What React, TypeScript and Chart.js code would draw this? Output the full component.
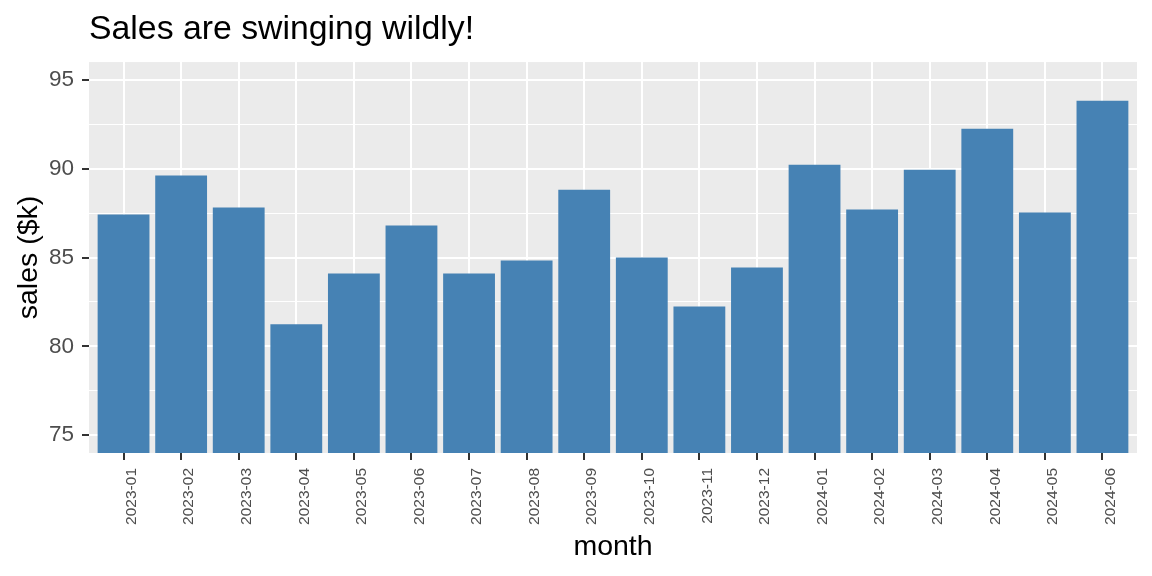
import { useEffect, useRef } from 'react';
import { Chart, registerables } from 'chart.js';

Chart.register(...registerables);

const MONTHS = [
  '2023-01', '2023-02', '2023-03', '2023-04', '2023-05', '2023-06',
  '2023-07', '2023-08', '2023-09', '2023-10', '2023-11', '2023-12',
  '2024-01', '2024-02', '2024-03', '2024-04', '2024-05', '2024-06',
];
const SALES = [
  87.42, 89.61, 87.81, 81.24, 84.1, 86.8,
  84.1, 84.83, 88.82, 85.0, 82.25, 84.44,
  90.22, 87.7, 89.94, 92.25, 87.53, 93.82,
];
const Y_TICKS = [75, 77.5, 80, 82.5, 85, 87.5, 90, 92.5, 95];

const FAMILY = '"Liberation Sans", Arial, sans-serif';
const isMajor = (v: number) => v % 5 === 0;

// grey panel behind the plot area, like ggplot's theme_gray
const panelBg = {
  id: 'panelBg',
  beforeDraw(chart: Chart) {
    const { ctx, chartArea: a } = chart;
    ctx.save();
    ctx.fillStyle = '#EBEBEB';
    ctx.fillRect(a.left, a.top, a.right - a.left, a.bottom - a.top);
    ctx.restore();
  },
};

export default function App() {
  const canvasRef = useRef<HTMLCanvasElement>(null);
  const chartRef = useRef<Chart | null>(null);

  useEffect(() => {
    if (!canvasRef.current) return;
    document.body.style.margin = '0';

    const existing = Chart.getChart(canvasRef.current);
    if (existing) existing.destroy();
    chartRef.current?.destroy();

    chartRef.current = new Chart(canvasRef.current, {
      type: 'bar',
      data: {
        datasets: [{
          data: SALES.map((v, i) => ({ x: i, y: v })),
          backgroundColor: '#4682B4',
          borderWidth: 0,
          categoryPercentage: 0.9,
          barPercentage: 1,
          base: 74,
        }],
      },
      options: {
        animation: false,
        responsive: true,
        maintainAspectRatio: false,
        layout: { padding: { left: 0, right: 15, top: 0, bottom: 0 } },
        plugins: {
          legend: { display: false },
          tooltip: { enabled: false },
          title: {
            display: true,
            text: 'Sales are swinging wildly!',
            align: 'start',
            fullSize: false,
            color: '#000',
            font: { family: FAMILY, size: 33.8, weight: 'normal' },
            padding: { top: 9, bottom: 12.5 },
          },
        },
        scales: {
          x: {
            type: 'linear',
            min: -0.6,
            max: 17.6,
            offset: false,
            afterBuildTicks: (s: any) => { s.ticks = MONTHS.map((_, i) => ({ value: i })); },
            afterFit: (s: any) => { s.height = 123; },
            grid: {
              offset: false,
              color: '#FFFFFF',
              lineWidth: 2,
              drawTicks: true,
              tickLength: 7,
              tickColor: '#333333',
              tickWidth: 2,
            },
            border: { display: false },
            ticks: {
              autoSkip: false,
              maxRotation: 90,
              minRotation: 90,
              padding: 8,
              labelOffset: 8,
              color: '#4D4D4D',
              font: { family: FAMILY, size: 15.5 },
              callback: (v: any) => MONTHS[v as number] ?? '',
            },
            title: {
              display: true,
              text: 'month',
              color: '#000',
              font: { family: FAMILY, size: 28.5 },
              padding: { top: 0, bottom: 12 },
            },
          },
          y: {
            min: 74,
            max: 96,
            beginAtZero: false,
            afterBuildTicks: (s: any) => { s.ticks = Y_TICKS.map(v => ({ value: v })); },
            afterFit: (s: any) => { s.width = 89; },
            grid: {
              color: '#FFFFFF',
              lineWidth: (c: any) => (isMajor(c.tick.value) ? 2 : 1),
              drawTicks: true,
              tickLength: 7,
              tickColor: (c: any) => (isMajor(c.tick.value) ? '#333333' : 'rgba(0,0,0,0)'),
              tickWidth: 2,
            },
            border: { display: false },
            ticks: {
              padding: 8,
              color: '#4D4D4D',
              font: { family: FAMILY, size: 22.5 },
              callback: (v: any) => (isMajor(v as number) ? String(v) : ''),
            },
            title: {
              display: true,
              text: 'sales ($k)',
              color: '#000',
              font: { family: FAMILY, size: 28.5 },
              padding: { top: 12, bottom: 0 },
            },
          },
        },
      },
      plugins: [panelBg],
    });

    return () => { chartRef.current?.destroy(); chartRef.current = null; };
  }, []);

  return (
    <div style={{ width: 1152, height: 576 }}>
      <canvas ref={canvasRef} />
    </div>
  );
}
